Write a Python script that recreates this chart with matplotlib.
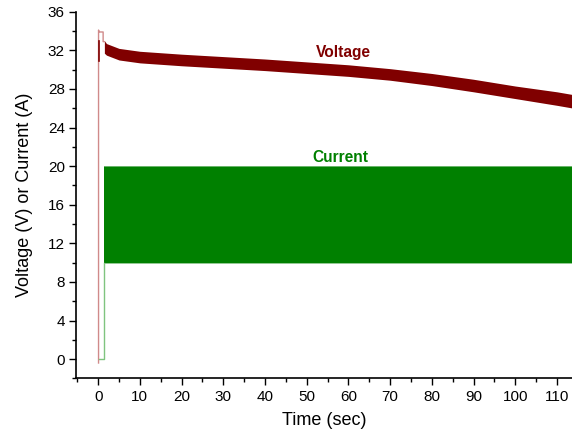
import matplotlib
matplotlib.use("Agg")
import matplotlib.pyplot as plt
from matplotlib.ticker import MultipleLocator

plt.rcParams['font.family'] = ['Liberation Sans', 'DejaVu Sans']

# Voltage envelope (oscillating band)
v_time = [1.5, 2, 5, 10, 20, 30, 40, 50, 60, 70, 80, 90, 100, 110, 114]
v_upper = [33.0, 32.7, 32.2, 31.9, 31.6, 31.35, 31.1, 30.8, 30.5, 30.1, 29.6, 29.0, 28.3, 27.7, 27.4]
v_lower = [31.7, 31.5, 31.0, 30.7, 30.4, 30.15, 29.9, 29.6, 29.3, 28.9, 28.35, 27.7, 27.0, 26.3, 26.0]

# Start-up trace of voltage
v_start_t = [0.1, 0.1, 0.25, 1.2, 1.2, 1.5]
v_start_v = [-0.4, 34.1, 33.9, 33.9, 32.9, 32.9]

# Current: zero, then switching band between 10 and 20 A
c_start_t = [0.1, 1.3, 1.3]
c_start_v = [0.0, 0.0, 10.0]
c_time = [1.3, 114]
c_upper = [20.0, 20.0]
c_lower = [10.0, 10.0]

fig = plt.figure(figsize=(5.72, 4.34), dpi=100)
ax = fig.add_axes([0.1329, 0.128, 0.8671, 0.845])

vcol = '#800000'
ccol = '#008000'

ax.plot(v_start_t, v_start_v, color='#d08a8a', lw=1.0)
ax.plot([0.25, 0.25], [30.9, 33.0], color=vcol, lw=1.2)
ax.fill_between(v_time, v_lower, v_upper, color=vcol, lw=0)

ax.plot(c_start_t, c_start_v, color='#7fc47f', lw=1.0)
ax.fill_between(c_time, c_lower, c_upper, color=ccol, lw=0)
ax.plot(c_time, c_upper, color='#7fbf7f', lw=0.6)
ax.plot(c_time, c_lower, color='#7fbf7f', lw=0.6)

ax.text(58.8, 31.8, 'Voltage', color=vcol, fontsize=11.2, fontweight='bold', ha='center', va='center')
ax.text(58.0, 20.85, 'Current', color=ccol, fontsize=11.2, fontweight='bold', ha='center', va='center')

ax.set_xlim(-5.3, 113.6)
ax.set_ylim(-2, 36)
ax.xaxis.set_major_locator(MultipleLocator(10))
ax.xaxis.set_minor_locator(MultipleLocator(5))
ax.yaxis.set_major_locator(MultipleLocator(4))
ax.yaxis.set_minor_locator(MultipleLocator(2))
ax.tick_params(which='major', direction='out', length=5, width=1, labelsize=11, pad=3)
ax.tick_params(which='minor', direction='out', length=3, width=1)
for s in ['top', 'right']:
    ax.spines[s].set_visible(False)
for s in ['left', 'bottom']:
    ax.spines[s].set_linewidth(1.2)

ax.set_xlabel('Time (sec)', fontsize=13, labelpad=6)
ax.set_ylabel('Voltage (V) or Current (A)', fontsize=13, labelpad=11)

fig.savefig('out.png', dpi=100)
